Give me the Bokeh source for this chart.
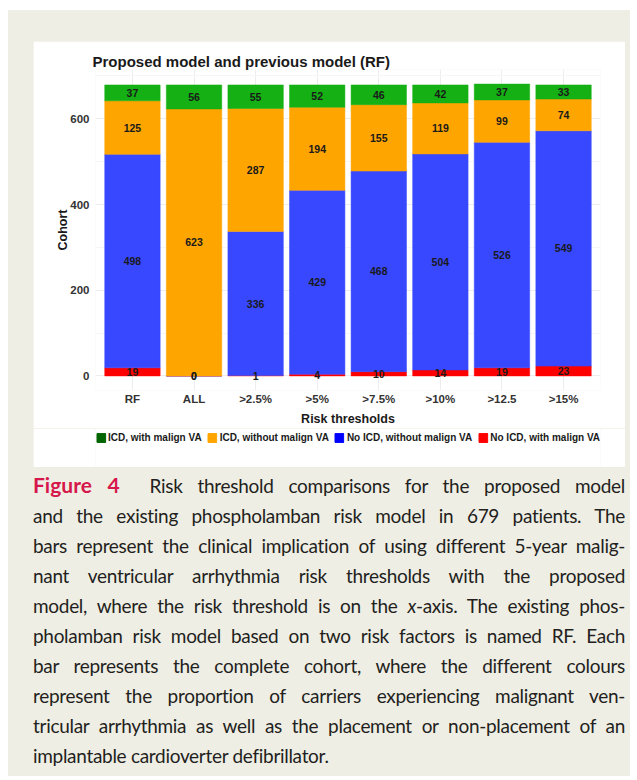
from bokeh.plotting import figure
from bokeh.models import (ColumnDataSource, Legend, LegendItem, Div, Range1d,
                          FixedTicker)
from bokeh.layouts import column
from bokeh.embed import file_html
from bokeh.resources import INLINE
from bokeh.core.properties import value

# ---------------- data ----------------
categories = ["RF", "ALL", ">2.5%", ">5%", ">7.5%", ">10%", ">12.5", ">15%"]
no_icd_with_va = [19, 0, 1, 4, 10, 14, 19, 23]              # red (bottom)
no_icd_without_va = [498, 0, 336, 429, 468, 504, 526, 549]  # blue
icd_without_va = [125, 623, 287, 194, 155, 119, 99, 74]     # orange
icd_with_va = [37, 56, 55, 52, 46, 42, 37, 33]              # green (top)

series_names = ["No ICD, with malign VA", "No ICD, without malign VA",
                "ICD, without malign VA", "ICD, with malign VA"]
series_values = [no_icd_with_va, no_icd_without_va, icd_without_va, icd_with_va]
bar_colors = ["#FF0000", "#3848FF", "#FFA500", "#14B014"]
key_colors = ["#FF0000", "#0000FF", "#FFA500", "#006400"]

y_ticks = [0, 200, 400, 600]
y_minor = [100, 300, 500, 700]

title_text = "Proposed model and previous model (RF)"
x_label = "Risk thresholds"
y_label = "Cohort"

caption_lines = [
    '<span style="color:#D6174C;font-weight:bold;font-size:21px;letter-spacing:0;">Figure 4</span>&nbsp; Risk threshold comparisons for the proposed model',
    'and the existing phospholamban risk model in 679 patients. The',
    'bars represent the clinical implication of using different 5-year malig-',
    'nant ventricular arrhythmia risk thresholds with the proposed',
    'model, where the risk threshold is on the <i>x</i>-axis. The existing phos-',
    'pholamban risk model based on two risk factors is named RF. Each',
    'bar represents the complete cohort, where the different colours',
    'represent the proportion of carriers experiencing malignant ven-',
    'tricular arrhythmia as well as the placement or non-placement of an',
    'implantable cardioverter defibrillator.',
]

# ---------------- main figure ----------------
FONT = "Liberation Sans"
xs = list(range(1, len(categories) + 1))

p = figure(width=592, height=387, output_backend="svg", toolbar_location=None,
           x_range=Range1d(0.4, len(categories) + 0.6),
           y_range=Range1d(-34, 715),
           min_border_left=62, min_border_right=25,
           min_border_top=28, min_border_bottom=35)
p.margin = (31, 5, 0, 25)
p.background_fill_color = "white"
p.border_fill_color = "white"
p.outline_line_color = None

p.title.text = title_text
p.title.text_font = FONT
p.title.text_font_size = "15px"
p.title.text_font_style = "bold"
p.title.text_color = "#1a1a1a"
p.title.offset = -3
p.title.standoff = 0

bottoms = [0] * len(categories)
label_sources = []
for name, vals, col in zip(series_names, series_values, bar_colors):
    tops = [b + v for b, v in zip(bottoms, vals)]
    mids = [b + v / 2 for b, v in zip(bottoms, vals)]
    src = ColumnDataSource(dict(x=xs, bottom=bottoms, top=tops, mid=mids,
                                lab=[str(v) for v in vals]))
    p.vbar(x="x", bottom="bottom", top="top", width=0.9, source=src,
           fill_color=col, line_color=col, line_width=0.5)
    label_sources.append(src)
    bottoms = tops

for src in label_sources:
    p.text(x="x", y="mid", text="lab", source=src, text_font=value(FONT),
           text_font_style="bold", text_font_size="10.5px",
           text_align="center", text_baseline="middle", text_color="#1a1a1a")

# axes
p.xaxis.ticker = FixedTicker(ticks=xs)
p.xaxis.major_label_overrides = {x: c for x, c in zip(xs, categories)}
p.yaxis.ticker = FixedTicker(ticks=y_ticks, minor_ticks=y_minor)
for ax in (p.xaxis, p.yaxis):
    ax.axis_line_color = None
    ax.major_tick_line_color = None
    ax.minor_tick_line_color = None
    ax.major_tick_out = 0
    ax.major_tick_in = 0
    ax.minor_tick_out = 0
    ax.major_label_text_font = FONT
    ax.major_label_text_font_style = "bold"
    ax.major_label_text_font_size = "11.5px"
    ax.major_label_text_color = "#333333"
    ax.axis_label_text_font = FONT
    ax.axis_label_text_font_style = "bold"
    ax.axis_label_text_font_size = "12.5px"
    ax.axis_label_text_color = "#1a1a1a"
p.xaxis.axis_label = x_label
p.yaxis.axis_label = y_label
p.xaxis.major_label_standoff = 2
p.xaxis.axis_label_standoff = 4
p.yaxis.major_label_standoff = 6
p.yaxis.axis_label_standoff = -3

p.xgrid.grid_line_color = "#EDEDED"
p.ygrid.grid_line_color = "#EDEDED"
p.ygrid.minor_grid_line_color = "#F6F6F6"

# ---------------- legend strip (same white panel) ----------------
lg = figure(width=592, height=39, output_backend="svg", toolbar_location=None,
            x_range=Range1d(10, 11), y_range=Range1d(10, 11),
            min_border_left=0, min_border_right=0, min_border_top=0,
            min_border_bottom=0)
lg.margin = (0, 5, 0, 25)
lg.axis.visible = False
lg.grid.visible = False
lg.outline_line_color = None
lg.background_fill_color = "white"
lg.border_fill_color = "white"

items = []
for name, col in zip(series_names, key_colors):
    r = lg.vbar(x=[0], top=[1], bottom=[0], width=0.5, fill_color=col,
                line_color=col)
    items.append(LegendItem(label=name, renderers=[r]))
items = items[::-1]
legend = Legend(items=items, orientation="horizontal", location="top_center",
                glyph_width=11, glyph_height=11, label_standoff=2, spacing=5,
                padding=2, margin=4, border_line_color=None,
                background_fill_alpha=0,
                label_text_font=FONT, label_text_font_size="10px",
                label_text_font_style="bold", label_text_color="#1a1a1a",
                label_height=11)
lg.add_layout(legend, "center")

# ---------------- caption ----------------
line_divs = []
for i, ln in enumerate(caption_lines):
    last = i == len(caption_lines) - 1
    align = "left" if last else "justify"
    line_divs.append(
        f'<div style="white-space:nowrap;text-align:{align};'
        f'text-align-last:{align};">{ln}</div>')
cap_html = ('<div style="width:592px;font-family:Lato;font-size:19px;'
            'letter-spacing:-0.3px;line-height:30px;color:#231F20;">'
            + "".join(line_divs) + "</div>")
cap = Div(text=cap_html, width=592, margin=(3, 5, 5, 25))

layout = column(p, lg, cap, styles={"background-color": "#EFEEE5"}, width=622,
                margin=(10, 0, 0, 8))

open("out.html", "w").write(file_html(layout, INLINE))
